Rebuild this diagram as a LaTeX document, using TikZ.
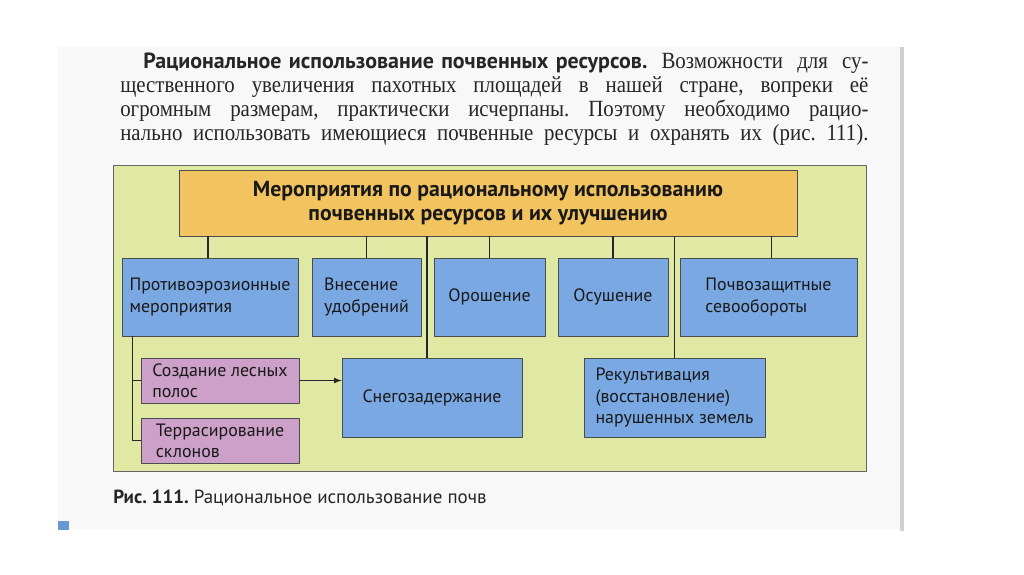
\documentclass[tikz,border=0pt]{standalone}
\usepackage{fontspec}
\setmainfont{Liberation Serif}
\setsansfont{PT Sans}
\newfontfamily\leadfont{PT Sans}
\newfontfamily\bodyfont[FakeStretch=0.9]{Liberation Serif}
\usetikzlibrary{calc,arrows.meta,positioning}

\newcommand{\pxu}{0.025cm}

\begin{document}
\frenchspacing
\begin{tikzpicture}[>=latex, line join=round, x=0.025cm, y=-0.025cm]

		% Colours of the scan
		\definecolor{pagegray}{RGB}{248, 248, 249}
		\definecolor{framegray}{RGB}{208, 208, 210}
		\definecolor{mygreen}{RGB}{223, 233, 163}
		\definecolor{myorange}{RGB}{242, 196, 96}
		\definecolor{myblue}{RGB}{122, 168, 226}
		\definecolor{mypink}{RGB}{204, 160, 200}
		\definecolor{mymark}{RGB}{104, 152, 214}

		\tikzset{
			box/.style={draw=black!70, line width=0.6pt, inner sep=3pt, text=black!90, align=left,
				font=\sffamily\fontsize{12.7}{15}\selectfont},
			bluebox/.style={box, fill=myblue},
			pinkbox/.style={box, fill=mypink},
			link/.style={draw=black!85, line width=0.85pt},
			textline/.style={anchor=base west, inner sep=0pt, text=black!85,
				font=\bodyfont\fontsize{16.5}{17}\selectfont},
		}

		\useasboundingbox (0, 0) rectangle (1024, 574);

		% 1. Page of the scan
		\fill[pagegray] (58, 47) rectangle (903, 529);
		\fill[framegray] (900, 47) rectangle (904, 531);
		\fill[mymark] (58, 521) rectangle (69, 530);

		% 2. Paragraph above the figure
		\node[textline] (lineA) at (143, 68) {\makebox[18.125cm][s]{\makebox[12.6cm][s]{\leadfont\bfseries\fontsize{15.6}{17}\selectfont Рациональное использование почвенных ресурсов.} Возможности для су-}};
		\node[textline] (lineB) at (120, 92) {\makebox[18.7cm][s]{щественного увеличения пахотных площадей в нашей стране, вопреки её}};
		\node[textline] (lineC) at (120, 116) {\makebox[18.7cm][s]{огромным размерам, практически исчерпаны. Поэтому необходимо рацио-}};
		\node[textline] (lineD) at (120, 140) {\makebox[18.7cm][s]{нально использовать имеющиеся почвенные ресурсы и охранять их (рис. 111).}};

		% 3. Green panel
		\draw[fill=mygreen, draw=black!60, line width=0.6pt] (113, 165) rectangle (866, 471);

		% 4. Head box
		\node[box, fill=myorange, align=center, minimum width=618*\pxu, minimum height=66*\pxu,
			font=\sffamily\bfseries\fontsize{15.5}{17}\selectfont] (head) at (488, 203)
			{Мероприятия по рациональному использованию\\почвенных ресурсов и их улучшению};

		% 5. Measures, first row
		\node[bluebox, minimum width=176*\pxu, minimum height=78*\pxu] (erosion) at (210, 297) {Противоэрозионные\\мероприятия};
		\node[bluebox, minimum width=109*\pxu, minimum height=78*\pxu] (fertil) at (366.5, 297) {Внесение\\удобрений};
		\node[bluebox, minimum width=111*\pxu, minimum height=78*\pxu] (irrig) at (489.5, 297) {Орошение};
		\node[bluebox, minimum width=110*\pxu, minimum height=78*\pxu] (drain) at (613, 297) {Осушение};
		\node[bluebox, minimum width=177*\pxu, minimum height=78*\pxu] (rotat) at (768.5, 297) {Почвозащитные\\севообороты};

		% 6. Second row
		\node[pinkbox, minimum width=158*\pxu, minimum height=45*\pxu] (forest) at (220, 380.5) {Создание лесных\\полос};
		\node[pinkbox, minimum width=158*\pxu, minimum height=45*\pxu] (terrace) at (220, 440.5) {Террасирование\\склонов};
		\node[bluebox, minimum width=180*\pxu, minimum height=79*\pxu] (snow) at (432, 397.5) {Снегозадержание};
		\node[bluebox, minimum width=181*\pxu, minimum height=79*\pxu] (reclaim) at (674.5, 397.5) {Рекультивация\\(восстановление)\\нарушенных земель};

		% 7. Links from the head box
		\foreach \n/\dx in {erosion/-2, fertil/0, irrig/0, drain/0, rotat/3}
			\draw[link] ([xshift=\dx*\pxu]\n.north) -- ([xshift=\dx*\pxu]\n.north |- head.south);
		\draw[link] ([xshift=-5*\pxu]snow.north) -- ([xshift=-5*\pxu]snow.north |- head.south);
		\draw[link] (reclaim.north) -- (reclaim.north |- head.south);

		% 8. Branch of the anti-erosion measures
		\coordinate (trunk) at ([xshift=11*\pxu]erosion.south west);
		\draw[link] (trunk) |- (terrace.west);
		\draw[link] (trunk |- forest.west) -- (forest.west);
		\draw[link, ->] (forest.east) -- (forest.east -| snow.west);

		% 9. Caption
		\node[anchor=base west, inner sep=0pt, text=black!85, font=\sffamily\fontsize{13.5}{15}\selectfont] (caption) at (113, 503)
			{\textbf{Рис. 111.} Рациональное использование почв};

	\end{tikzpicture}
\end{document}
